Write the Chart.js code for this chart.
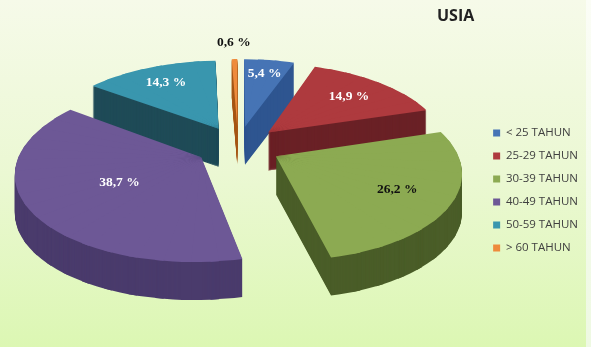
<!DOCTYPE html>
<html lang="id">
<head>
  <meta charset="UTF-8">
  <title>Usia</title>
  <script src="https://cdn.jsdelivr.net/npm/chart.js"></script>
  <style>
    html, body {
      margin: 0;
      padding: 0;
    }
    body {
      width: 591px;
      height: 347px;
      overflow: hidden;
      background: linear-gradient(to bottom, #f6fae9 0%, #ebf8d3 50%, #dcf7b3 100%);
    }
    .chart-box {
      position: relative;
      width: 591px;
      height: 347px;
    }
    .chart-box::after {
      content: "";
      position: absolute;
      top: 0;
      right: 0;
      width: 5px;
      height: 347px;
      background: linear-gradient(to bottom, #fbfdf6, #eef9e2);
    }
    .judul {
      position: absolute;
      left: 437px;
      top: 4px;
      font: bold 16px "Open Sans", sans-serif;
      color: #222;
    }
  </style>
</head>
<body>

<div class="chart-box">
  <canvas id="grafik"></canvas>
  <div class="judul">USIA</div>
</div>

<script>
  const kategori = ["< 25 TAHUN", "25-29 TAHUN", "30-39 TAHUN", "40-49 TAHUN", "50-59 TAHUN", "> 60 TAHUN"];
  const persen = [5.4, 14.9, 26.2, 38.7, 14.3, 0.6];

  const warnaAtas = ["#4674b5", "#ae3a3e", "#8caa52", "#6d5896", "#3996ae", "#ee8b3c"];
  const warnaSisi = ["#2e5590", "#6a2126", "#4a5d28", "#4a3b6c", "#1f4b57", "#a65818"];
  const warnaLabel = ["#ffffff", "#ffffff", "#111111", "#ffffff", "#ffffff", "#111111"];

  // proyeksi perspektif sederhana: (u, v) di lingkaran satuan -> piksel layar
  const proj = (o, u, v) => {
    const w = 1 - o.g * v;
    return [o.x + (o.a * u + o.b * v) / w, o.y + (o.c * u + o.d * v) / w];
  };

  // irisan dipecah jadi potongan kecil, tiap potongan diberi transform affine sendiri
  function gambarIrisan(ctx, arc, o, opsi, dy) {
    const R = arc.outerRadius;
    const h = (arc.startAngle + arc.endAngle) / 2;
    const cu = Math.cos(h) * o.explode, cv = Math.sin(h) * o.explode;
    const t0 = proj(o, cu, cv);
    const sweep = arc.endAngle - arc.startAngle;
    const n = Math.max(1, Math.ceil(sweep / (Math.PI / 24)));
    for (let k = 0; k < n; k++) {
      const f1 = arc.startAngle + sweep * k / n;
      const f2 = arc.startAngle + sweep * (k + 1) / n;
      const s1x = Math.cos(f1), s1y = Math.sin(f1), s2x = Math.cos(f2), s2y = Math.sin(f2);
      const t1 = proj(o, cu + s1x, cv + s1y);
      const t2 = proj(o, cu + s2x, cv + s2y);
      const det = s1x * s2y - s2x * s1y;
      const d1x = t1[0] - t0[0], d1y = t1[1] - t0[1], d2x = t2[0] - t0[0], d2y = t2[1] - t0[1];
      const L11 = (d1x * s2y - d2x * s1y) / det;
      const L12 = (-d1x * s2x + d2x * s1x) / det;
      const L21 = (d1y * s2y - d2y * s1y) / det;
      const L22 = (-d1y * s2x + d2y * s1x) / det;

      const ghost = Object.create(arc);
      ghost.startAngle = k === 0 ? f1 : f1 - 0.02;
      ghost.endAngle = k === n - 1 ? f2 : f2 + 0.02;
      ghost.circumference = ghost.endAngle - ghost.startAngle;
      ghost.options = opsi;

      ctx.save();
      ctx.translate(t0[0], t0[1] + dy);
      ctx.transform(L11 / R, L21 / R, L12 / R, L22 / R, 0, 0);
      ctx.translate(-arc.x, -arc.y);
      ghost.draw(ctx);
      ctx.restore();
    }
  }

  const pie3d = {
    id: 'pie3d',
    beforeDatasetDraw(chart, args, o) {
      const ctx = chart.ctx;
      const arcs = args.meta.data;
      const opsiSisi = arcs.map((arc, i) => Object.assign({}, arc.options, { backgroundColor: warnaSisi[i], borderWidth: 0 }));
      const opsiAtas = arcs.map(arc => Object.assign({}, arc.options, { borderWidth: 0 }));
      for (let dy = o.depth; dy > 0; dy--) {
        arcs.forEach((arc, i) => gambarIrisan(ctx, arc, o, opsiSisi[i], dy));
      }
      arcs.forEach((arc, i) => gambarIrisan(ctx, arc, o, opsiAtas[i], 0));
      return false;
    },
    afterDatasetsDraw(chart, args, o) {
      const ctx = chart.ctx;
      const arcs = chart.getDatasetMeta(0).data;
      ctx.save();
      ctx.font = 'bold 13.5px "Liberation Serif", serif';
      ctx.textAlign = 'center';
      ctx.textBaseline = 'middle';
      arcs.forEach((arc, i) => {
        const h = (arc.startAngle + arc.endAngle) / 2;
        const s = o.explode + o.jarakLabel[i];
        const p = proj(o, Math.cos(h) * s, Math.sin(h) * s);
        ctx.fillStyle = warnaLabel[i];
        ctx.fillText(persen[i].toFixed(1).replace('.', ',') + ' %', p[0], p[1]);
      });
      ctx.restore();
    }
  };

  new Chart(document.getElementById('grafik'), {
    type: 'pie',
    data: {
      labels: kategori,
      datasets: [{
        data: persen,
        backgroundColor: warnaAtas,
        borderWidth: 0,
        offset: 0
      }]
    },
    options: {
      responsive: true,
      maintainAspectRatio: false,
      animation: false,
      events: [],
      layout: { padding: { top: 34, right: 3 } },
      plugins: {
        title: { display: false },
        legend: {
          position: 'right',
          labels: {
            boxWidth: 7,
            boxHeight: 7,
            padding: 11.5,
            color: '#404040',
            font: { family: 'Open Sans', size: 11.5 }
          }
        },
        tooltip: { enabled: false },
        pie3d: {
          x: 238, y: 146,
          a: 179, b: 0, c: 0, d: 84,
          g: 0.16,
          explode: 0.24,
          depth: 38,
          jarakLabel: [0.78, 0.71, 0.71, 0.5, 0.74, 1.29]
        }
      }
    },
    plugins: [pie3d]
  });
</script>
</body>
</html>
